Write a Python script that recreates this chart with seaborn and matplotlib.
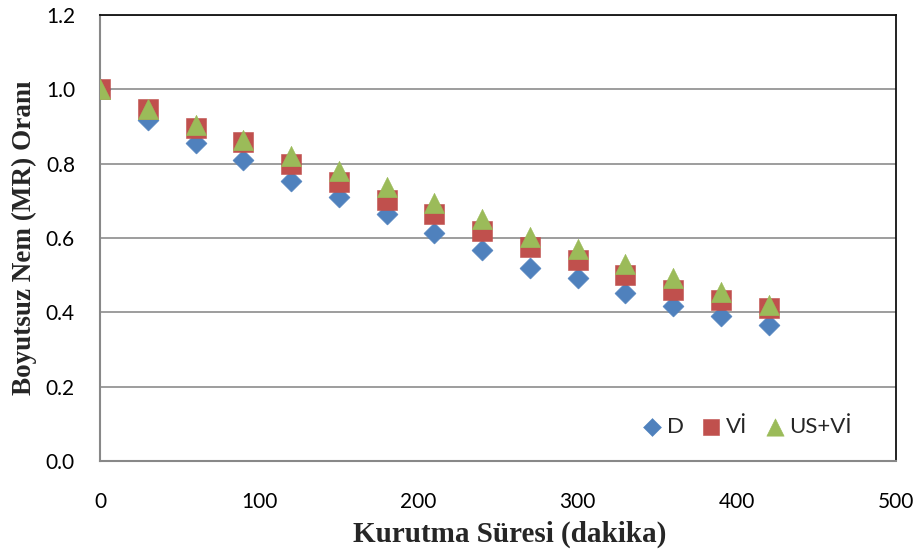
import matplotlib
matplotlib.use("Agg")
import matplotlib.pyplot as plt
import seaborn as sns
import pandas as pd

# Data
time_min = [0, 30, 60, 90, 120, 150, 180, 210, 240, 270, 300, 330, 360, 390, 420]
mr_D = [1.0, 0.918, 0.855, 0.809, 0.753, 0.71, 0.665, 0.614, 0.569, 0.52, 0.492, 0.453, 0.417, 0.391, 0.367]
mr_VI = [1.0, 0.948, 0.896, 0.857, 0.80, 0.752, 0.703, 0.665, 0.62, 0.575, 0.541, 0.50, 0.46, 0.433, 0.411]
mr_USVI = [1.0, 0.948, 0.903, 0.865, 0.821, 0.78, 0.738, 0.695, 0.65, 0.604, 0.57, 0.53, 0.492, 0.455, 0.42]
series_names = ["D", "Vİ", "US+Vİ"]
x_ticks = [0, 100, 200, 300, 400, 500]
y_ticks = [0.0, 0.2, 0.4, 0.6, 0.8, 1.0, 1.2]

sns.set_theme(style="white")
plt.rcParams["font.family"] = ["Lato", "DejaVu Sans"]

colors = {"D": "#4F81BD", "Vİ": "#C0504D", "US+Vİ": "#9BBB59"}
markers = {"D": "D", "Vİ": "s", "US+Vİ": "^"}
sizes = {"D": 115, "Vİ": 205, "US+Vİ": 215}

frames = []
for name, vals in zip(series_names, [mr_D, mr_VI, mr_USVI]):
    frames.append(pd.DataFrame({"t": time_min, "mr": vals, "seri": name}))
df = pd.concat(frames, ignore_index=True)

fig = plt.figure(figsize=(9.17, 5.54), dpi=100)
ax = fig.add_axes([100 / 917, 1 - 461 / 554, 796 / 917, 446 / 554])

for name in series_names:
    sub = df[df["seri"] == name]
    sns.scatterplot(data=sub, x="t", y="mr", ax=ax, marker=markers[name],
                    color=colors[name], s=sizes[name], linewidth=0.4,
                    edgecolor=colors[name], label=name, zorder=3)

ax.set_xlim(0, 500)
ax.set_ylim(0, 1.2)
ax.set_xticks(x_ticks)
ax.set_yticks(y_ticks)
ax.set_xticklabels([str(v) for v in x_ticks])
ax.set_yticklabels([f"{v:.1f}" for v in y_ticks])
ax.tick_params(axis="both", labelsize=15, colors="#888888", labelcolor="black",
               direction="out", length=8, width=1.2)
ax.tick_params(axis="x", pad=14)
ax.tick_params(axis="y", pad=10)

ax.grid(axis="y", color="#8c8c8c", linewidth=1.2, zorder=0)
ax.grid(axis="x", visible=False)
ax.set_axisbelow(True)

for side in ["left", "bottom"]:
    ax.spines[side].set_color("#888888")
    ax.spines[side].set_linewidth(1.5)
for side in ["top", "right"]:
    ax.spines[side].set_color("#111111")
    ax.spines[side].set_linewidth(1.3)

ax.set_xlabel("Kurutma Süresi (dakika)", fontfamily="Liberation Serif",
              fontweight="bold", fontsize=21)
ax.xaxis.set_label_coords(0.515, -0.133)
ax.set_ylabel("Boyutsuz Nem (MR) Oranı", fontfamily="Liberation Serif",
              fontweight="bold", fontsize=19.5)
ax.yaxis.set_label_coords(-0.079, 0.5)

leg = ax.legend(loc="lower right", ncol=3, frameon=False, fontsize=16,
                bbox_to_anchor=(0.97, 0.01), handletextpad=0.0,
                columnspacing=0.6, handlelength=1.3, markerscale=0.85)

fig.savefig("out.png", dpi=100, facecolor="white")
